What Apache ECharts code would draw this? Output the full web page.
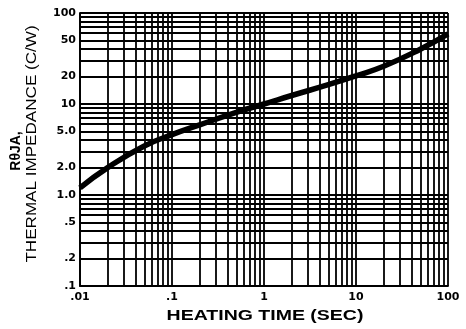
<!DOCTYPE html>
<html>
<head>
<meta charset="utf-8">
<script src="https://cdn.jsdelivr.net/npm/echarts@6/dist/echarts.min.js"></script>
<style>html,body{margin:0;padding:0;background:#fff}#c{width:466px;height:329px}</style>
</head>
<body>
<div id="c"></div>
<script>
// Data
const heatingTime = [0.01, 0.02, 0.05, 0.1, 0.2, 0.5, 1, 2, 5, 10, 20, 50, 100];
const impedance   = [1.2, 2.0, 3.45, 4.6, 5.9, 8.1, 10, 12.4, 16.3, 20.4, 26, 40, 59];

// Grid lines (log paper)
const xGridValues = [0.01,0.02,0.03,0.04,0.05,0.06,0.07,0.08,0.09,0.1,0.2,0.3,0.4,0.5,0.6,0.7,0.8,0.9,1,2,3,4,5,6,7,8,9,10,20,30,40,50,60,70,80,90,100];
const yGridValues = [0.1,0.2,0.3,0.4,0.5,0.6,0.7,0.8,0.9,1,2,3,4,5,6,7,8,9,10,20,30,40,50,60,70,80,90,100];

// Tick labels
const xTickValues = [0.01, 0.1, 1, 10, 100];
const xTickLabels = ['.01', '.1', '1', '10', '100'];
const yTickValues = [0.1, 0.2, 0.5, 1, 2, 5, 10, 20, 50, 100];
const yTickLabels = ['.1', '.2', '.5', '1.0', '2.0', '5.0', '10', '20', '50', '100'];

const xTitle = 'HEATING TIME (SEC)';
const yTitle1 = 'R\u03B8JA,';
const yTitle2 = 'THERMAL IMPEDANCE (C/W)';

const FONT = 'DejaVu Sans';
const TFONT = 'Liberation Sans';
const near = (a, b) => Math.abs(Math.log10(a) - Math.log10(b)) < 1e-6;

const chart = echarts.init(document.getElementById('c'), null, {renderer: 'canvas'});

const gridLineStyle = {color: '#000', width: 1.8, type: 'solid'};

const xLines = xGridValues.map(v => ({xAxis: v, label: {show: false}}));
const yLines = yGridValues.map(v => {
  const i = yTickValues.findIndex(t => near(t, v));
  return {
    yAxis: v,
    label: i >= 0 ? {show: true, position: 'start', distance: 4, formatter: yTickLabels[i],
      color: '#000', fontFamily: FONT, fontWeight: 'bold', fontSize: 11} : {show: false}
  };
});

chart.setOption({
  animation: false,
  grid: {left: 80, right: 18, top: 13, bottom: 43},
  xAxis: {
    type: 'log', logBase: 10, min: 0.01, max: 100,
    axisLine: {show: true, lineStyle: {color: '#000', width: 1.8}},
    axisTick: {show: false},
    splitLine: {show: false},
    axisLabel: {
      margin: 6, color: '#000', fontFamily: FONT, fontWeight: 'bold', fontSize: 11,
      formatter: v => {
        const i = xTickValues.findIndex(t => near(t, v));
        return i >= 0 ? xTickLabels[i] : '';
      }
    }
  },
  yAxis: {
    type: 'log', logBase: 10, min: 0.1, max: 100,
    axisLine: {show: true, lineStyle: {color: '#000', width: 1.8}},
    axisTick: {show: false},
    splitLine: {show: false},
    axisLabel: {show: false}
  },
  series: [
    {
      type: 'line', data: [], z: 1, silent: true,
      markLine: {
        silent: true, symbol: 'none', animation: false,
        lineStyle: gridLineStyle,
        emphasis: {disabled: true},
        data: xLines.concat(yLines)
      }
    },
    {
      type: 'line', z: 5, silent: true, smooth: 0.5, showSymbol: false, symbol: 'none',
      lineStyle: {color: '#000', width: 5.5},
      data: heatingTime.map((t, i) => [t, impedance[i]])
    }
  ],
  graphic: [
    {type: 'text', x: 265, y: 316, scaleX: 1.3, style: {text: xTitle, fill: '#000',
      font: 'bold 15px "' + TFONT + '"', textAlign: 'center', textVerticalAlign: 'middle'}},
    {type: 'text', x: 16, y: 151, rotation: Math.PI / 2, scaleX: 1.0, style: {text: yTitle1, fill: '#000',
      font: 'bold 14px "' + TFONT + '"', textAlign: 'center', textVerticalAlign: 'middle'}},
    {type: 'text', x: 32, y: 144, rotation: Math.PI / 2, scaleX: 1.22, style: {text: yTitle2, fill: '#000',
      font: '14px "' + TFONT + '"', textAlign: 'center', textVerticalAlign: 'middle'}}
  ]
});
</script>
</body>
</html>
